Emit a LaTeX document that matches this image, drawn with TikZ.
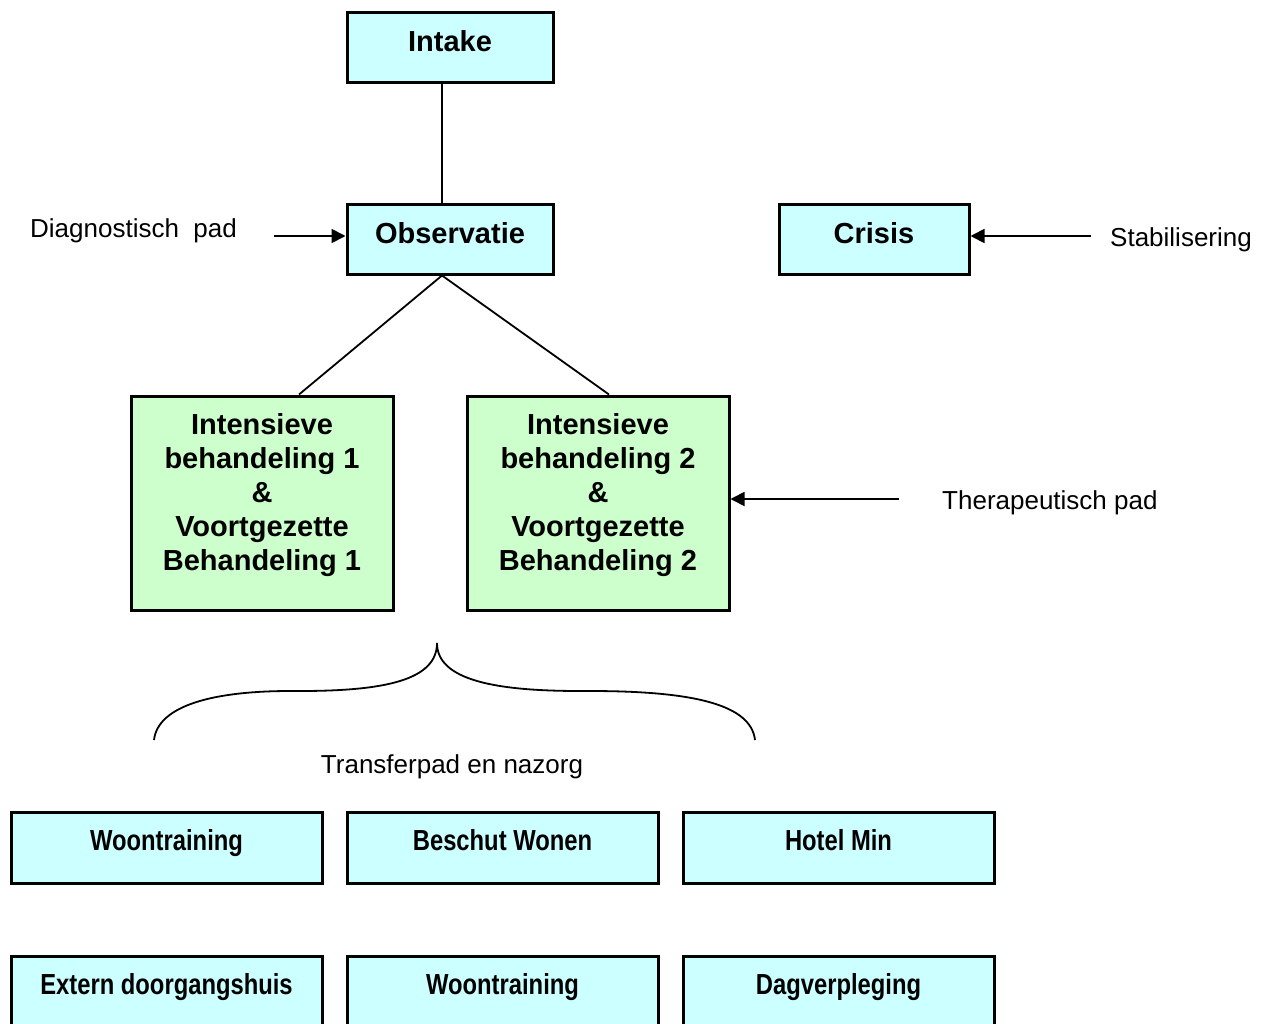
\documentclass[tikz,border=0pt]{standalone}
\usepackage{fontspec}
\setmainfont{Liberation Sans}
\newfontfamily\narrowfont[FakeStretch=0.82]{Liberation Sans}
\usetikzlibrary{arrows.meta}
\definecolor{boxcyan}{HTML}{CCFFFF}
\definecolor{boxgreen}{HTML}{CCFFCC}

\begin{document}
\begin{tikzpicture}[x=1pt, y=-1pt, >={Triangle[length=14pt,width=14pt]},
  box/.style={draw, line width=3pt, inner sep=0pt},
  stepbox/.style={box, fill=boxcyan, minimum width=206pt, minimum height=70pt,
    font=\fontsize{29pt}{34pt}\selectfont\bfseries, text height=21pt, text depth=12pt},
  treatbox/.style={box, fill=boxgreen, minimum width=262pt, minimum height=214pt,
    font=\fontsize{29pt}{34pt}\selectfont\bfseries, text height=21pt, text depth=159pt},
  transferbox/.style={box, fill=boxcyan, minimum width=311pt, minimum height=71pt,
    font=\fontsize{29pt}{34pt}\selectfont\narrowfont\bfseries, text height=21pt, text depth=15pt},
  pathlabel/.style={font=\fontsize{26pt}{30pt}\selectfont, inner sep=0pt,
    text height=18.6pt, text depth=0pt},
  link/.style={line width=1.8pt}]

\useasboundingbox (0,0) rectangle (1272,1023);

% stappen
\node [stepbox] (intake) at (450,47) {Intake};
\node [stepbox] (observatie) at (450,239) {Observatie};
\node [stepbox, minimum width=190pt] (crisis) at (874,239) {Crisis};

\foreach \n [count=\i] in {1, 2}
  \node [treatbox] (behandeling-\i) at ({262+336*(\i-1)}, 503)
    {\begin{tabular}[t]{@{}c@{}}Intensieve\\ behandeling \n\\ \&\\ Voortgezette\\ Behandeling \n\end{tabular}};

\foreach \t [count=\i] in {Woontraining, Beschut Wonen, Hotel Min}
  \node [transferbox] (transfer1-\i) at ({166.5+336*(\i-1)}, 847.5) {\t};

\foreach \t [count=\i] in {Extern doorgangshuis, Woontraining, Dagverpleging}
  \node [transferbox] (transfer2-\i) at ({166.5+336*(\i-1)}, 991.5) {\t};

% verbindingen
\draw [link] ([xshift=-8pt]intake.south) -- ([xshift=-8pt]observatie.north);
\draw [link] ([xshift=-8pt]observatie.south) -- ([xshift=37pt]behandeling-1.north);
\draw [link] ([xshift=-8pt]observatie.south) -- ([xshift=11pt]behandeling-2.north);

% paden
\node [pathlabel, anchor=west] (diagnostisch) at (30,228.5) {Diagnostisch~ pad};
\coordinate (diagnostisch-start) at (274,236);
\draw [link, ->] (diagnostisch-start) -- ([yshift=3pt]observatie.west);

\node [pathlabel, anchor=west] (stabilisering) at (1110,237.5) {Stabilisering};
\coordinate (stabilisering-start) at (1091,236);
\draw [link, ->] (stabilisering-start) -- ([yshift=3pt]crisis.east);

\node [pathlabel, anchor=west] (therapeutisch) at (942,500) {Therapeutisch pad};
\coordinate (therapeutisch-start) at (899,499);
\draw [link, ->] (therapeutisch-start) -- ([yshift=4pt]behandeling-2.east);

% accolade
\coordinate (brace-tip) at (437,643);
\draw [link] (154,740) .. controls (158,705) and (215,691) .. (290,691)
  -- (300,691) .. controls (385,691) and (437,680) .. (brace-tip)
  .. controls (437,680) and (495,691) .. (580,691)
  -- (590,691) .. controls (695,691) and (751,705) .. (755,740);
\node [pathlabel] (transferpad) at (452,764.5) {Transferpad en nazorg};

\end{tikzpicture}
\end{document}
